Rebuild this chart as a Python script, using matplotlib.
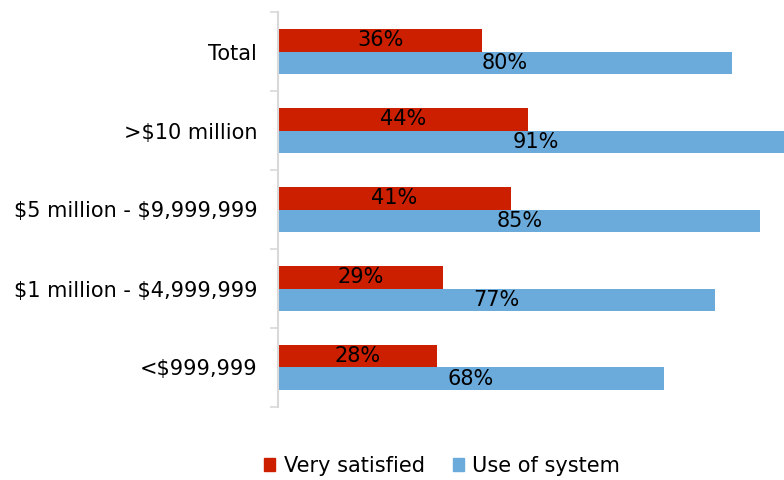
import matplotlib
matplotlib.use("Agg")
import matplotlib.pyplot as plt
import numpy as np
from matplotlib.patches import Patch

categories = ["Total", ">$10 million", "$5 million - $9,999,999",
              "$1 million - $4,999,999", "<$999,999"]
very_satisfied = [36, 44, 41, 29, 28]
use_of_system = [80, 91, 85, 77, 68]
series_names = ["Very satisfied", "Use of system"]

RED = "#CC1F00"
BLUE = "#6BABDB"
FS = 15

plt.rcParams['font.family'] = ['DejaVu Sans']
plt.rcParams['text.parse_math'] = False

fig = plt.figure(figsize=(7.84, 4.8), dpi=100)
ax = fig.add_axes([278/784, 1-407/480, 1-278/784, (407-12)/480])

y = np.arange(len(categories))
h = 0.28
b1 = ax.barh(y - h/2, very_satisfied, height=h, color=RED)
b2 = ax.barh(y + h/2, use_of_system, height=h, color=BLUE)

for bars, vals in ((b1, very_satisfied), (b2, use_of_system)):
    for bar, v in zip(bars, vals):
        ax.text(v/2, bar.get_y() + bar.get_height()/2, f"{v}%",
                ha="center", va="center", fontsize=FS, color="black")

ax.set_xlim(0, (784-278)/5.675)
ax.set_ylim(len(categories)-0.5, -0.5)
ax.set_yticks(y)
ax.set_yticklabels(categories, fontsize=FS)
ax.set_yticks(np.arange(-0.5, len(categories)), minor=True)
ax.tick_params(axis='y', which='major', length=0, pad=15)
ax.tick_params(axis='y', which='minor', length=6, width=1.2, color="#D9D9D9")
ax.set_xticks([])
for s in ("top", "right", "bottom"):
    ax.spines[s].set_visible(False)
ax.spines["left"].set_color("#D9D9D9")
ax.spines["left"].set_linewidth(1.5)

handles = [Patch(color=RED), Patch(color=BLUE)]
fig.legend(handles, series_names, loc="center", bbox_to_anchor=(442/784, 1-466/480),
           ncol=2, frameon=False, fontsize=FS, handlelength=0.55, handleheight=0.55,
           handletextpad=0.4, columnspacing=1.35)

fig.savefig("out.png", dpi=100)
